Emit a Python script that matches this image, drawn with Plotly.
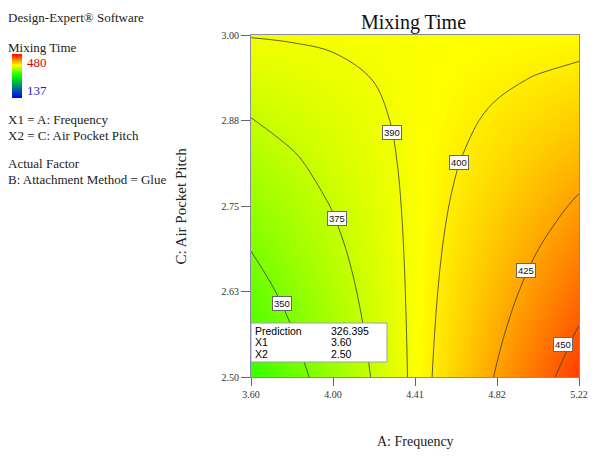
import plotly.graph_objects as go

# ---------------- data ----------------
freq_vals = [3.6, 3.8025, 4.005, 4.2075, 4.41, 4.6125, 4.815, 5.0175, 5.22]          # A: Frequency
pitch_vals = [2.5, 2.5625, 2.625, 2.6875, 2.75, 2.8125, 2.875, 2.9375, 3.0]          # C: Air Pocket Pitch
# Mixing Time estimated from the contour plot (rows = pitch, cols = frequency)
mixing_time = [
    [326.40, 343.06, 359.72, 376.39, 393.05, 409.71, 426.38, 443.04, 459.70],
    [334.41, 349.06, 363.71, 378.36, 393.01, 407.66, 422.31, 436.96, 451.61],
    [342.43, 355.07, 367.70, 380.34, 392.98, 405.62, 418.26, 430.89, 443.53],
    [350.44, 361.06, 371.69, 382.32, 392.94, 403.57, 414.19, 424.82, 435.44],
    [358.45, 367.06, 375.68, 384.29, 392.90, 401.51, 410.13, 418.74, 427.35],
    [366.46, 373.06, 379.66, 386.26, 392.86, 399.46, 406.06, 412.66, 419.26],
    [374.48, 379.07, 383.66, 388.24, 392.83, 397.42, 402.01, 406.59, 411.18],
    [382.49, 385.07, 387.64, 390.22, 392.79, 395.37, 397.94, 400.52, 403.09],
    [390.50, 391.06, 391.63, 392.19, 392.75, 393.31, 393.88, 394.44, 395.00],
]
z_min, z_max = 137, 480
contour_levels = [350, 375, 390, 400, 425, 450]
x_tickvals = [3.6, 4.005, 4.41, 4.815, 5.22]
x_ticktext = ["3.60", "4.00", "4.41", "4.82", "5.22"]
y_tickvals = [2.5, 2.625, 2.75, 2.875, 3.0]
y_ticktext = ["2.50", "2.63", "2.75", "2.88", "3.00"]
pred_labels = ["Prediction", "X1", "X2"]
pred_values = ["326.395", "3.60", "2.50"]
pred_point = (3.60, 2.50)

# ---------------- layout constants ----------------
label_pos = {350: (3.755, 2.608), 375: (4.026, 2.732), 390: (4.296, 2.857),
             400: (4.625, 2.814), 425: (4.959, 2.656), 450: (5.140, 2.548)}
SERIF = "Liberation Serif"
SANS = "Liberation Sans"
W, H = 600, 458
L, R, T, B = 251, 14, 35, 81
PW, PH = W - L - R, H - T - B


def px(xp):
    return (xp - L) / PW


def py(yp):
    return (H - B - yp) / PH


colorscale = [[0.0, "rgb(0,0,255)"], [0.5, "rgb(0,255,0)"],
              [0.75, "rgb(255,255,0)"], [1.0, "rgb(255,0,0)"]]

fig = go.Figure()
fig.add_trace(go.Heatmap(
    x=freq_vals, y=pitch_vals, z=mixing_time, zsmooth="best",
    colorscale=colorscale, zmin=z_min, zmax=z_max, hoverinfo="skip",
    colorbar=dict(x=px(7), xanchor="left", y=py(54), yanchor="top",
                  len=44, lenmode="pixels", thickness=10, thicknessmode="pixels",
                  outlinewidth=0, showticklabels=False, ticks="",
                  xpad=0, ypad=0, title=dict(text="")),
))
for lv in contour_levels:
    fig.add_trace(go.Contour(
        x=freq_vals, y=pitch_vals, z=mixing_time,
        contours=dict(start=lv, end=lv, size=1, coloring="none"),
        line=dict(color="#3a3a3a", width=0.8, smoothing=1.0),
        showscale=False, hoverinfo="skip",
    ))

ann = []
for lv in contour_levels:
    lx, ly = label_pos[lv]
    ann.append(dict(x=lx, y=ly, xref="x", yref="y", text=str(lv), showarrow=False,
                    font=dict(family=SANS, size=9.5, color="#111"),
                    bgcolor="white", bordercolor="#666", borderwidth=1, borderpad=1))

# prediction box (pixel-sized, anchored at the predicted point)
shapes = [dict(type="rect", xref="x", yref="y", xsizemode="pixel", ysizemode="pixel",
               xanchor=pred_point[0], yanchor=pred_point[1], x0=0, x1=136, y0=15, y1=54,
               fillcolor="white", line=dict(color="#a0a0a0", width=1), layer="above")]
row_shift = [46, 35, 23]
for lab, val, ys in zip(pred_labels, pred_values, row_shift):
    for txt, xs in ((lab, 3), (val, 79)):
        ann.append(dict(x=pred_point[0], y=pred_point[1], xref="x", yref="y", text=txt,
                        showarrow=False, xanchor="left", yanchor="middle",
                        xshift=xs, yshift=ys, borderpad=0,
                        font=dict(family=SANS, size=10.5, color="#000")))

# left info texts
left_texts = [
    ("Design-Expert® Software", 17, "#222", 1),
    ("Mixing Time", 47, "#222", 1),
    ("480", 62, "#e00000", 20),
    ("137", 90, "#2020d0", 20),
    ("X1 = A: Frequency", 120, "#222", 1),
    ("X2 = C: Air Pocket Pitch", 135, "#222", 1),
    ("Actual Factor", 164, "#222", 1),
    ("B: Attachment Method = Glue", 179, "#222", 1),
]
for txt, yy, col, xx in left_texts:
    ann.append(dict(x=px(xx), y=py(yy), xref="paper", yref="paper", text=txt,
                    showarrow=False, xanchor="left", yanchor="middle",
                    font=dict(family=SERIF, size=13, color=col)))

# axis titles
ann.append(dict(x=0.5, y=py(441), xref="paper", yref="paper", text="A: Frequency",
                showarrow=False, xanchor="center", yanchor="middle",
                font=dict(family=SERIF, size=14, color="#222")))
ann.append(dict(x=px(180), y=py(206), xref="paper", yref="paper", text="C: Air Pocket Pitch",
                showarrow=False, xanchor="center", yanchor="middle", textangle=-90,
                font=dict(family=SERIF, size=15, color="#222")))

axis_common = dict(showgrid=False, zeroline=False, showline=True, linecolor="#8a8aa8",
                   linewidth=1, mirror=True, ticks="outside", tickcolor="#666",
                   tickfont=dict(family=SERIF, size=10, color="#333"))

fig.update_layout(
    width=W, height=H, margin=dict(l=L, r=R, t=T, b=B),
    paper_bgcolor="white", plot_bgcolor="white", showlegend=False,
    title=dict(text="Mixing Time", x=px(417), xref="paper", xanchor="center",
               y=1 - 22 / H, yref="container", yanchor="middle",
               font=dict(family=SERIF, size=20, color="#111")),
    xaxis=dict(range=[freq_vals[0], freq_vals[-1]], tickvals=x_tickvals, ticktext=x_ticktext,
               ticklen=8, **axis_common),
    yaxis=dict(range=[pitch_vals[0], pitch_vals[-1]], tickvals=y_tickvals, ticktext=y_ticktext,
               ticklen=9, **axis_common),
    annotations=ann, shapes=shapes,
)

fig.write_html("out.html", config={"displayModeBar": False},
               post_script="document.body.style.margin='0';document.body.style.overflow='hidden';")
